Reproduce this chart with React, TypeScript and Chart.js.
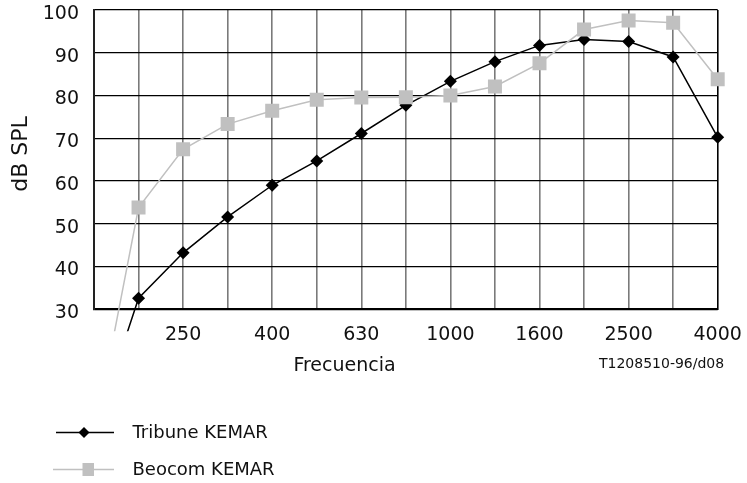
import React, { useEffect, useRef } from "react";
import { Chart, registerables } from "chart.js";

Chart.register(...registerables);

// Third-octave frequencies (Hz)
const frequencies: string[] = [
  "160", "200", "250", "315", "400", "500", "630", "800",
  "1000", "1250", "1600", "2000", "2500", "3150", "4000",
];
// Frequencies whose labels are shown on the axis
const shownTicks: string[] = ["250", "400", "630", "1000", "1600", "2500", "4000"];

const tribuneKemar: number[] = [
  1, 32.6, 43.2, 51.6, 59.0, 64.7, 71.1, 77.7, 83.3, 87.9, 91.7, 93.1, 92.6, 89.0, 70.2,
];
const beocomKemar: number[] = [
  0, 53.8, 67.4, 73.3, 76.4, 79.0, 79.5, 79.6, 80.0, 82.1, 87.5, 95.4, 97.5, 97.0, 83.8,
];

const seriesNames: string[] = ["Tribune KEMAR", "Beocom KEMAR"];
const xTitle = "Frecuencia";
const yTitle = "dB SPL";
const figureCode = "T1208510-96/d08";
const yMin = 30;
const yMax = 100;
const yStep = 10;

const BLACK = "#000000";
const GRAY = "#c0c0c0";
const TEXT = "#111111";
const FONT = '"DejaVu Sans", "Liberation Sans", sans-serif';

const overlayPlugin = {
  id: "overlay",
  afterDraw(chart: any) {
    const ctx = chart.ctx as CanvasRenderingContext2D;
    ctx.save();
    ctx.fillStyle = TEXT;
    ctx.textBaseline = "middle";

    // x title
    ctx.font = `19px ${FONT}`;
    ctx.textAlign = "center";
    ctx.fillText(xTitle, 344.5, 366.5);

    // figure code
    ctx.font = `14px ${FONT}`;
    ctx.textAlign = "left";
    ctx.fillText(figureCode, 599, 364);

    // y title
    ctx.save();
    ctx.translate(21, 154);
    ctx.rotate(-Math.PI / 2);
    ctx.font = `22px ${FONT}`;
    ctx.textAlign = "center";
    ctx.fillText(yTitle, 0, 0);
    ctx.restore();

    // legend
    ctx.font = `18px ${FONT}`;
    ctx.textAlign = "left";
    // Tribune
    ctx.strokeStyle = BLACK;
    ctx.lineWidth = 1.5;
    ctx.beginPath();
    ctx.moveTo(56, 432.5);
    ctx.lineTo(114, 432.5);
    ctx.stroke();
    ctx.fillStyle = BLACK;
    ctx.beginPath();
    ctx.moveTo(84, 427);
    ctx.lineTo(89.5, 432.5);
    ctx.lineTo(84, 438);
    ctx.lineTo(78.5, 432.5);
    ctx.closePath();
    ctx.fill();
    ctx.fillStyle = TEXT;
    ctx.fillText(seriesNames[0], 132.5, 433.5);
    // Beocom
    ctx.strokeStyle = GRAY;
    ctx.beginPath();
    ctx.moveTo(53, 469.5);
    ctx.lineTo(114, 469.5);
    ctx.stroke();
    ctx.fillStyle = GRAY;
    ctx.fillRect(82.5, 463, 11.5, 13);
    ctx.fillStyle = TEXT;
    ctx.fillText(seriesNames[1], 132.5, 470.5);

    ctx.restore();
  },
};

const zeroPadding = (scale: any) => {
  scale.paddingTop = 0;
  scale.paddingBottom = 0;
  scale.paddingLeft = 0;
  scale.paddingRight = 0;
};

export default function App() {
  const canvasRef = useRef<HTMLCanvasElement | null>(null);

  useEffect(() => {
    const canvas = canvasRef.current;
    if (!canvas) return;
    const hideFirst = (r: number) => frequencies.map((_, i) => (i === 0 ? 0 : r));
    const chart = new Chart(canvas, {
      type: "line",
      data: {
        labels: frequencies,
        datasets: [
          {
            label: seriesNames[0],
            data: tribuneKemar,
            borderColor: BLACK,
            backgroundColor: BLACK,
            borderWidth: 1.5,
            pointStyle: "rectRot",
            pointRadius: hideFirst(6.5),
            pointBorderWidth: 0,
            tension: 0,
            order: 1,
            clip: { left: 0, top: 12, right: 12, bottom: 22 } as any,
          },
          {
            label: seriesNames[1],
            data: beocomKemar,
            borderColor: GRAY,
            backgroundColor: GRAY,
            borderWidth: 1.5,
            pointStyle: "rect",
            pointRadius: hideFirst(9.9),
            pointBorderWidth: 0,
            tension: 0,
            order: 0,
            clip: { left: 0, top: 12, right: 12, bottom: 22 } as any,
          },
        ],
      },
      options: {
        animation: false,
        responsive: false,
        devicePixelRatio: 1,
        layout: { padding: { left: 0, top: 9.5, right: 29.3, bottom: 0 } },
        plugins: {
          legend: { display: false },
          tooltip: { enabled: false },
          title: { display: false },
        },
        scales: {
          x: {
            type: "category",
            offset: false,
            afterFit: (scale: any) => {
              scale.height = 483 - 309.3;
              zeroPadding(scale);
            },
            grid: {
              drawTicks: false,
              color: (c: any) => (c.index === frequencies.length - 1 ? BLACK : "#7a7a7a"),
              lineWidth: 1.6,
            },
            border: { display: true, color: BLACK, width: 2 },
            ticks: {
              autoSkip: false,
              maxRotation: 0,
              padding: 14,
              color: TEXT,
              font: { family: FONT, size: 19 },
              callback: (_v: any, i: number) =>
                shownTicks.includes(frequencies[i]) ? frequencies[i] : "",
            },
          },
          y: {
            min: yMin,
            max: yMax,
            afterFit: (scale: any) => {
              scale.width = 94;
              zeroPadding(scale);
            },
            grid: {
              drawTicks: false,
              color: BLACK,
              lineWidth: 1.2,
            },
            border: { display: true, color: "#222222", width: 2 },
            ticks: {
              stepSize: yStep,
              padding: 15,
              labelOffset: 4,
              color: TEXT,
              font: { family: FONT, size: 19 },
            },
          },
        },
      },
      plugins: [overlayPlugin],
    });
    return () => chart.destroy();
  }, []);

  return (
    <div style={{ position: "absolute", left: 0, top: 0, width: 747, height: 483, background: "#fff" }}>
      <canvas ref={canvasRef} width={747} height={483} style={{ display: "block" }} />
    </div>
  );
}
